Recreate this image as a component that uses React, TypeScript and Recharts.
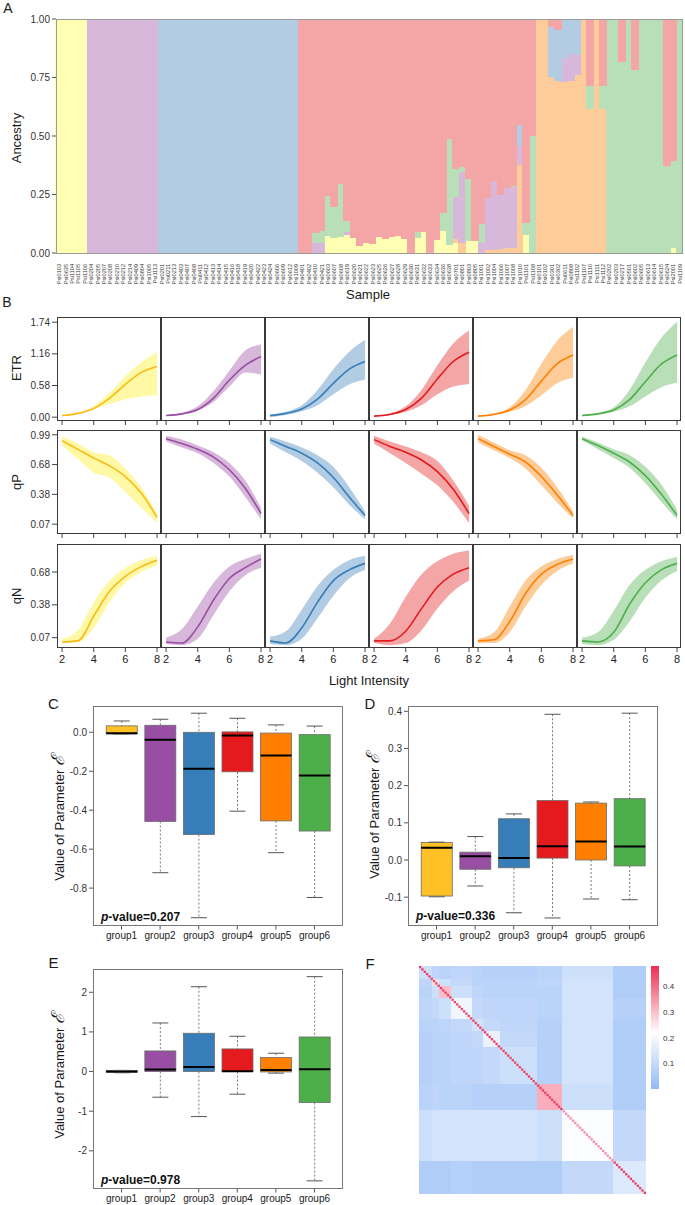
import React from "react";
import {
  BarChart,
  Bar,
  XAxis,
  YAxis,
  ComposedChart,
  Area,
  Line,
  ScatterChart,
  Scatter,
  ReferenceArea,
} from "recharts";

const FONT = '"Liberation Sans", Arial, Helvetica, sans-serif';

// ---------- A: ancestry ----------
const sampleIds = [
  "Psi0103", "Psi0635", "Psi1104", "Psi1105", "Psi1106",
  "Psi0204", "Psi0205", "Psi0207", "Psi0208", "Psi0210", "Psi0212", "Psi0214", "Psi0409", "Psi0804", "Psi1005", "Psi1113",
  "Psi0201", "Psi0211", "Psi0213", "Psi0403", "Psi0407", "Psi0408", "Psi0411", "Psi0412", "Psi0413", "Psi0414", "Psi0415",
  "Psi0416", "Psi0418", "Psi0419", "Psi0420", "Psi0422", "Psi0423", "Psi0424", "Psi0606", "Psi0609", "Psi0612", "Psi1009",
  "Psi0401", "Psi0402", "Psi0410", "Psi0421", "Psi0603", "Psi0607", "Psi0608", "Psi0619", "Psi0620", "Psi0621", "Psi0622",
  "Psi0623", "Psi0625", "Psi0626", "Psi0627", "Psi0628", "Psi0629", "Psi0630", "Psi0631", "Psi0632", "Psi0633", "Psi0634",
  "Psi0636", "Psi0638", "Psi0701", "Psi0801", "Psi0803", "Psi0805", "Psi1001", "Psi1002", "Psi1004", "Psi1006", "Psi1007",
  "Psi1008", "Psi1010", "Psi1101", "Psi1108",
  "Psi0101", "Psi0102", "Psi0301", "Psi0302", "Psi0611", "Psi0808", "Psi1102", "Psi1107", "Psi1110", "Psi1111", "Psi1112",
  "Psi0202", "Psi0203", "Psi0217", "Psi0501", "Psi0602", "Psi0605", "Psi0613", "Psi0614", "Psi0615", "Psi0624", "Psi2001", "Psi1109",
];

// stacking order bottom -> top
const clusterKeys = ["yellow", "orange", "purple", "blue", "green", "red"];
const clusterFill: Record<string, string> = {
  yellow: "#FFFFB3",
  orange: "#FDCC99",
  purple: "#D7B7DA",
  blue: "#B1CCE3",
  green: "#B9DFB8",
  red: "#F4A5A5",
};

// Q per sample: [yellow, orange, purple, blue, green, red]
const ancestryQ: number[][] = [
  [1, 0, 0, 0, 0, 0], [1, 0, 0, 0, 0, 0], [1, 0, 0, 0, 0, 0], [1, 0, 0, 0, 0, 0], [1, 0, 0, 0, 0, 0],
  [0, 0, 1, 0, 0, 0], [0, 0, 1, 0, 0, 0], [0, 0, 1, 0, 0, 0], [0, 0, 1, 0, 0, 0], [0, 0, 1, 0, 0, 0], [0, 0, 1, 0, 0, 0],
  [0, 0, 1, 0, 0, 0], [0, 0, 1, 0, 0, 0], [0, 0, 1, 0, 0, 0], [0, 0, 1, 0, 0, 0], [0, 0, 1, 0, 0, 0],
  [0, 0, 0, 1, 0, 0], [0, 0, 0, 1, 0, 0], [0, 0, 0, 1, 0, 0], [0, 0, 0, 1, 0, 0], [0, 0, 0, 1, 0, 0], [0, 0, 0, 1, 0, 0],
  [0, 0, 0, 1, 0, 0], [0, 0, 0, 1, 0, 0], [0, 0, 0, 1, 0, 0], [0, 0, 0, 1, 0, 0], [0, 0, 0, 1, 0, 0], [0, 0, 0, 1, 0, 0],
  [0, 0, 0, 1, 0, 0], [0, 0, 0, 1, 0, 0], [0, 0, 0, 1, 0, 0], [0, 0, 0, 1, 0, 0], [0, 0, 0, 1, 0, 0], [0, 0, 0, 1, 0, 0],
  [0, 0, 0, 1, 0, 0], [0, 0, 0, 1, 0, 0], [0, 0, 0, 1, 0, 0], [0, 0, 0, 1, 0, 0],
  [0, 0, 0, 0, 0, 1],
  [0, 0, 0, 0, 0, 1],
  [0, 0, 0.047, 0, 0.043, 0.91],
  [0, 0, 0.045, 0, 0.05, 0.905],
  [0.074, 0, 0, 0, 0.171, 0.755],
  [0.065, 0, 0, 0, 0.135, 0.8],
  [0.07, 0, 0, 0, 0.23, 0.7],
  [0.081, 0, 0.01, 0, 0.047, 0.862],
  [0.066, 0, 0, 0, 0, 0.934],
  [0.033, 0, 0, 0, 0, 0.967],
  [0.044, 0, 0, 0, 0, 0.956],
  [0.041, 0, 0, 0, 0, 0.959],
  [0.073, 0, 0, 0, 0, 0.927],
  [0.063, 0, 0, 0, 0, 0.937],
  [0.07, 0, 0, 0, 0, 0.93],
  [0.074, 0, 0, 0, 0, 0.926],
  [0.063, 0, 0, 0, 0, 0.937],
  [0, 0, 0, 0, 0, 1],
  [0.068, 0, 0, 0, 0.025, 0.907],
  [0.093, 0, 0, 0, 0, 0.907],
  [0, 0, 0, 0, 0, 1],
  [0.057, 0, 0, 0, 0, 0.943],
  [0.097, 0, 0, 0, 0.077, 0.826],
  [0.036, 0, 0, 0, 0.454, 0.51],
  [0.044, 0.017, 0.181, 0, 0.118, 0.64],
  [0, 0.044, 0.306, 0, 0.022, 0.628],
  [0.054, 0, 0, 0, 0.266, 0.68],
  [0.053, 0, 0, 0, 0, 0.947],
  [0, 0, 0.044, 0, 0.081, 0.875],
  [0, 0.014, 0.226, 0, 0, 0.76],
  [0, 0.014, 0.296, 0, 0, 0.69],
  [0, 0.02, 0.23, 0, 0, 0.75],
  [0, 0.025, 0.255, 0, 0, 0.72],
  [0, 0.025, 0.26, 0, 0.005, 0.71],
  [0, 0.38, 0.08, 0.09, 0, 0.45],
  [0.081, 0, 0, 0, 0.049, 0.87],
  [0.005, 0, 0, 0, 0.498, 0.497],
  [0, 1, 0, 0, 0, 0],
  [0, 1, 0, 0, 0, 0],
  [0, 0.755, 0, 0.214, 0, 0.031],
  [0, 0.74, 0, 0.217, 0, 0.043],
  [0, 0.733, 0.103, 0.164, 0, 0],
  [0, 0.74, 0.115, 0.145, 0, 0],
  [0, 0.762, 0.086, 0.152, 0, 0],
  [0, 1, 0, 0, 0, 0],
  [0.005, 0.615, 0, 0, 0.095, 0.285],
  [0, 1, 0, 0, 0, 0],
  [0, 0.62, 0, 0, 0.095, 0.285],
  [0, 0, 0, 0, 1, 0],
  [0, 0, 0, 0, 1, 0],
  [0, 0, 0, 0, 0.818, 0.182],
  [0, 0, 0, 0, 1, 0],
  [0, 0, 0, 0, 0.785, 0.215],
  [0, 0, 0, 0, 1, 0],
  [0, 0, 0, 0, 1, 0],
  [0, 0, 0, 0, 1, 0],
  [0, 0, 0, 0, 1, 0],
  [0, 0, 0, 0, 0.375, 0.625],
  [0.025, 0, 0, 0, 0.371, 0.604],
  [0, 0, 0, 0, 1, 0],
];
const ancestryTicks = [0, 0.25, 0.5, 0.75, 1];

// ---------- B: light response curves ----------
const lightX = [2, 3, 4, 5, 6, 7, 8];
const lightTicks = [2, 4, 6, 8];
const lineColors = ["#FDB914", "#984EA3", "#377EB8", "#E41A1C", "#FF7F00", "#4DAF4A"];
const bandColors = ["#FFF9A6", "#D7B7DA", "#B1CCE3", "#F4A5A5", "#FDCC99", "#B9DFB8"];

const etrMid = [
  [0.03, 0.07, 0.16, 0.35, 0.6, 0.82, 0.93],
  [0.03, 0.06, 0.14, 0.35, 0.68, 0.95, 1.11],
  [0.03, 0.07, 0.15, 0.33, 0.62, 0.88, 1.02],
  [0.02, 0.05, 0.14, 0.35, 0.7, 1.02, 1.19],
  [0.02, 0.05, 0.13, 0.32, 0.66, 0.98, 1.14],
  [0.03, 0.06, 0.13, 0.32, 0.65, 0.97, 1.14],
];
const etrLow = [
  [0.02, 0.06, 0.15, 0.24, 0.33, 0.38, 0.4],
  [0.02, 0.05, 0.12, 0.28, 0.56, 0.82, 0.78],
  [0.0, 0.04, 0.11, 0.22, 0.42, 0.6, 0.69],
  [0.01, 0.04, 0.1, 0.22, 0.42, 0.56, 0.61],
  [0.01, 0.04, 0.1, 0.2, 0.4, 0.62, 0.72],
  [0.02, 0.05, 0.1, 0.2, 0.38, 0.55, 0.63],
];
const etrHigh = [
  [0.04, 0.08, 0.2, 0.45, 0.75, 1.0, 1.2],
  [0.04, 0.08, 0.2, 0.48, 0.85, 1.22, 1.33],
  [0.05, 0.1, 0.22, 0.5, 0.88, 1.2, 1.42],
  [0.03, 0.07, 0.2, 0.5, 0.95, 1.35, 1.59],
  [0.03, 0.07, 0.18, 0.5, 0.98, 1.4, 1.65],
  [0.04, 0.08, 0.18, 0.5, 1.0, 1.45, 1.75],
];
const qpMid = [
  [0.93, 0.84, 0.75, 0.67, 0.56, 0.39, 0.14],
  [0.95, 0.9, 0.84, 0.76, 0.63, 0.44, 0.18],
  [0.94, 0.87, 0.8, 0.7, 0.55, 0.35, 0.16],
  [0.94, 0.87, 0.81, 0.73, 0.61, 0.43, 0.18],
  [0.95, 0.87, 0.79, 0.71, 0.56, 0.37, 0.16],
  [0.95, 0.88, 0.8, 0.71, 0.57, 0.38, 0.16],
];
const qpLow = [
  [0.88, 0.74, 0.6, 0.55, 0.4, 0.24, 0.08],
  [0.92, 0.86, 0.8, 0.7, 0.56, 0.35, 0.12],
  [0.9, 0.81, 0.72, 0.6, 0.45, 0.27, 0.12],
  [0.9, 0.8, 0.7, 0.59, 0.47, 0.3, 0.08],
  [0.91, 0.83, 0.75, 0.64, 0.47, 0.29, 0.13],
  [0.93, 0.84, 0.75, 0.65, 0.49, 0.3, 0.12],
];
const qpHigh = [
  [0.975, 0.9, 0.81, 0.78, 0.64, 0.45, 0.18],
  [0.98, 0.94, 0.88, 0.81, 0.7, 0.52, 0.24],
  [0.97, 0.92, 0.86, 0.78, 0.66, 0.45, 0.2],
  [0.98, 0.92, 0.87, 0.81, 0.72, 0.52, 0.26],
  [0.99, 0.91, 0.83, 0.78, 0.65, 0.45, 0.2],
  [0.97, 0.91, 0.84, 0.78, 0.66, 0.48, 0.22],
];
const qnMid = [
  [0.03, 0.04, 0.27, 0.5, 0.64, 0.73, 0.79],
  [0.03, 0.02, 0.17, 0.42, 0.62, 0.72, 0.8],
  [0.04, 0.02, 0.16, 0.4, 0.6, 0.7, 0.76],
  [0.04, 0.04, 0.13, 0.34, 0.54, 0.66, 0.72],
  [0.04, 0.05, 0.22, 0.48, 0.66, 0.75, 0.8],
  [0.04, 0.03, 0.12, 0.38, 0.58, 0.7, 0.76],
];
const qnLow = [
  [0.02, 0.03, 0.16, 0.4, 0.58, 0.68, 0.74],
  [0.01, 0.0, 0.06, 0.28, 0.5, 0.65, 0.72],
  [0.01, 0.0, 0.06, 0.25, 0.46, 0.62, 0.7],
  [0.02, 0.0, 0.02, 0.14, 0.34, 0.5, 0.6],
  [0.02, 0.02, 0.12, 0.36, 0.56, 0.69, 0.76],
  [0.01, 0.0, 0.05, 0.22, 0.44, 0.6, 0.69],
];
const qnHigh = [
  [0.06, 0.14, 0.4, 0.6, 0.72, 0.79, 0.83],
  [0.07, 0.15, 0.36, 0.58, 0.73, 0.8, 0.85],
  [0.08, 0.13, 0.33, 0.55, 0.7, 0.79, 0.83],
  [0.06, 0.2, 0.45, 0.66, 0.78, 0.85, 0.88],
  [0.06, 0.12, 0.36, 0.6, 0.73, 0.8, 0.84],
  [0.07, 0.12, 0.32, 0.56, 0.7, 0.78, 0.82],
];

const curveRows = [
  { label: "ETR", mid: etrMid, low: etrLow, high: etrHigh, domain: [-0.07, 1.835], ticks: [0, 0.58, 1.16, 1.74], top: 316.5 },
  { label: "qP", mid: qpMid, low: qpLow, high: qpHigh, domain: [-0.031, 1.039], ticks: [0.07, 0.3767, 0.6833, 0.99], top: 429.5 },
  { label: "qN", mid: qnMid, low: qnLow, high: qnHigh, domain: [-0.026, 0.94], ticks: [0.07, 0.375, 0.68], top: 544 },
];

// ---------- C, D, E: boxplots ----------
const groupNames = ["group1", "group2", "group3", "group4", "group5", "group6"];
const boxColors = ["#FFC125", "#984EA3", "#377EB8", "#E41A1C", "#FF7F00", "#4DAF4A"];

const cMin = [-0.008, -0.721, -0.952, -0.405, -0.618, -0.848];
const cQ1 = [-0.008, -0.458, -0.525, -0.203, -0.455, -0.507];
const cMed = [-0.005, -0.038, -0.187, -0.016, -0.119, -0.222];
const cQ3 = [0.033, 0.036, 0.0, 0.002, -0.004, -0.012];
const cMax = [0.058, 0.067, 0.098, 0.072, 0.038, 0.032];

const dMin = [-0.099, -0.07, -0.142, -0.156, -0.105, -0.107];
const dQ1 = [-0.097, -0.025, -0.021, 0.005, 0.0, -0.016];
const dMed = [0.033, 0.01, 0.005, 0.037, 0.05, 0.036];
const dQ3 = [0.047, 0.021, 0.111, 0.16, 0.153, 0.165];
const dMax = [0.048, 0.063, 0.124, 0.392, 0.156, 0.395];

const eMin = [-0.03, -0.647, -1.136, -0.571, -0.04, -2.757];
const eQ1 = [-0.025, 0.0, 0.0, 0.0, -0.01, -0.782];
const eMed = [0.0, 0.05, 0.118, 0.01, 0.04, 0.06];
const eQ3 = [0.025, 0.52, 0.966, 0.571, 0.353, 0.872];
const eMax = [0.03, 1.226, 2.14, 0.89, 0.462, 2.394];

// ---------- F: kinship heatmap (block structure) ----------
const heatBlockSizes = [6, 3, 5, 9, 5, 7, 16, 11, 22, 14];
const heatBlockValues = [
  [0.12, 0.09, 0.08, 0.09, 0.08, 0.07, 0.07, 0.08, 0.12, 0.06],
  [0.09, 0.26, 0.12, 0.1, 0.08, 0.08, 0.08, 0.09, 0.13, 0.06],
  [0.08, 0.12, 0.3, 0.12, 0.09, 0.08, 0.08, 0.08, 0.13, 0.06],
  [0.09, 0.1, 0.12, 0.19, 0.1, 0.09, 0.09, 0.08, 0.13, 0.07],
  [0.08, 0.08, 0.09, 0.1, 0.13, 0.1, 0.09, 0.07, 0.13, 0.06],
  [0.07, 0.08, 0.08, 0.09, 0.1, 0.18, 0.1, 0.07, 0.13, 0.06],
  [0.07, 0.08, 0.08, 0.09, 0.09, 0.1, 0.12, 0.07, 0.13, 0.06],
  [0.08, 0.09, 0.08, 0.08, 0.07, 0.07, 0.07, 0.32, 0.12, 0.06],
  [0.12, 0.13, 0.13, 0.13, 0.13, 0.13, 0.13, 0.12, 0.21, 0.1],
  [0.06, 0.06, 0.06, 0.07, 0.06, 0.06, 0.06, 0.06, 0.1, 0.15],
];
const heatDiagValues = [0.46, 0.45, 0.46, 0.45, 0.45, 0.46, 0.45, 0.46, 0.36, 0.46];
const heatTicks = [0.1, 0.2, 0.3, 0.4];

const LOW = [146, 186, 246];
const MID = [255, 255, 255];
const HIGH = [237, 45, 82];
function heatColor(v: number) {
  const mix = (a: number[], b: number[], t: number) =>
    `rgb(${a.map((c, i) => Math.round(c + (b[i] - c) * t)).join(",")})`;
  if (v <= 0.22) return mix(LOW, MID, Math.max(0, v / 0.22));
  return mix(MID, HIGH, Math.min(1, (v - 0.22) / 0.26));
}

// ---------- helpers ----------
function Txt({ x, y, size = 13, rotate = false, weight = 400, children }: any) {
  return (
    <div
      style={{
        position: "absolute",
        left: x,
        top: y,
        transform: `translate(-50%, -50%)${rotate ? " rotate(-90deg)" : ""}`,
        fontSize: size,
        fontWeight: weight,
        whiteSpace: "nowrap",
        lineHeight: 1,
        color: "#1a1a1a",
      }}
    >
      {children}
    </div>
  );
}

function Frame({ left, top, width, height, color = "#444" }: any) {
  return (
    <div
      style={{
        position: "absolute",
        left,
        top,
        width,
        height,
        border: `1px solid ${color}`,
        boxSizing: "border-box",
        pointerEvents: "none",
      }}
    />
  );
}

const SampleTick = (props: any) => {
  const { x, y, payload } = props;
  return (
    <g transform={`translate(${x},${y + 3})`}>
      <text transform="rotate(-90)" x={0} y={0} dy={2} textAnchor="end" fontSize={5.6} fill="#333">
        {payload.value}
      </text>
    </g>
  );
};

function AncestryPanel() {
  const data = sampleIds.map((id, i) => {
    const row: any = { id };
    clusterKeys.forEach((k, j) => (row[k] = ancestryQ[i][j]));
    return row;
  });
  return (
    <div style={{ position: "absolute", left: 0, top: 0 }}>
      <BarChart width={685} height={290} data={data} margin={{ top: 19, right: 2, left: 0, bottom: 0 }} barCategoryGap={0}>
        <XAxis dataKey="id" interval={0} height={37} tick={(p: any) => <SampleTick {...p} />} tickLine={false} axisLine={false} />
        <YAxis
          width={56}
          type="number"
          domain={[0, 1]}
          ticks={ancestryTicks}
          allowDataOverflow
          tickFormatter={(v: number) => v.toFixed(2)}
          tickSize={4}
          axisLine={false}
          tickLine={{ stroke: "#555" }}
          tick={{ fontSize: 10, fill: "#333" }}
        />
        {clusterKeys.map((k) => (
          <Bar
            key={k}
            dataKey={k}
            stackId="q"
            fill={clusterFill[k]}
            stroke={clusterFill[k]}
            strokeWidth={1.4}
            shapeRendering="crispEdges"
            isAnimationActive={false}
          />
        ))}
      </BarChart>
    </div>
  );
}

const B_LEFT = 56.7;
const B_W = 104;
const B_H = 104;

function CurvePanel({ row, col }: { row: number; col: number }) {
  const r = curveRows[row];
  const data = lightX.map((x, i) => ({
    x,
    mid: r.mid[col][i],
    band: [r.low[col][i], r.high[col][i]],
  }));
  const plotLeft = B_LEFT + col * B_W;
  const yW = 50;
  const first = col === 0;
  return (
    <>
      <div style={{ position: "absolute", left: plotLeft - yW, top: r.top }}>
        <ComposedChart width={B_W + yW} height={B_H + 24} data={data} margin={{ top: 0, right: 0, bottom: 0, left: 0 }}>
          <XAxis
            type="number"
            dataKey="x"
            domain={[1.68, 8.25]}
            ticks={lightTicks}
            allowDataOverflow
            height={24}
            axisLine={false}
            tickSize={4}
            tickMargin={3}
            tickLine={{ stroke: "#444" }}
            tick={{ fontSize: 11, fill: "#222" }}
            tickFormatter={row === 2 ? (v: number) => String(v) : () => ""}
          />
          <YAxis
            type="number"
            domain={r.domain}
            ticks={r.ticks}
            allowDataOverflow
            width={yW}
            axisLine={false}
            tickSize={first ? 5 : 0}
            tickLine={first ? { stroke: "#444" } : false}
            tick={first ? { fontSize: 10, fill: "#333" } : false}
            tickFormatter={(v: number) => v.toFixed(2)}
          />
          <Area type="monotone" dataKey="band" stroke="none" fill={bandColors[col]} fillOpacity={1} isAnimationActive={false} />
          <Line type="monotone" dataKey="mid" stroke={lineColors[col]} strokeWidth={1.6} dot={false} isAnimationActive={false} />
        </ComposedChart>
      </div>
      <Frame left={plotLeft} top={r.top} width={B_W} height={B_H} color="#3a3a3a" />
    </>
  );
}

const norm = (p: any) => {
  const y0 = Math.min(p.y, p.y + p.height);
  return { x: p.x, y: y0, w: p.width, h: Math.abs(p.height) };
};

const WhiskerLow = (p: any) => {
  const { x, y, w, h } = norm(p);
  const cx = x + w / 2;
  return (
    <g>
      <line x1={cx} x2={cx} y1={y} y2={y + h} stroke="#7a7a7a" strokeDasharray="2 2" />
      <line x1={cx - 8} x2={cx + 8} y1={y + h} y2={y + h} stroke="#555" />
    </g>
  );
};
const WhiskerHigh = (p: any) => {
  const { x, y, w, h } = norm(p);
  const cx = x + w / 2;
  return (
    <g>
      <line x1={cx} x2={cx} y1={y} y2={y + h} stroke="#7a7a7a" strokeDasharray="2 2" />
      <line x1={cx - 8} x2={cx + 8} y1={y} y2={y} stroke="#555" />
    </g>
  );
};
const BoxLow = (p: any) => {
  const { x, y, w, h } = norm(p);
  return <rect x={x} y={y} width={w} height={h} fill={boxColors[p.index]} stroke="#6b6b6b" strokeWidth={0.8} />;
};
const BoxHigh = (p: any) => {
  const { x, y, w, h } = norm(p);
  return (
    <g>
      <rect x={x} y={y} width={w} height={h} fill={boxColors[p.index]} stroke="#6b6b6b" strokeWidth={0.8} />
      <line x1={x} x2={x + w} y1={y + h} y2={y + h} stroke="#000" strokeWidth={2} />
    </g>
  );
};

function BoxPanel({ left, top, mins, q1s, meds, q3s, maxs, domain, ticks, fmt }: any) {
  const data = groupNames.map((g, i) => ({
    g,
    base: mins[i],
    wLow: q1s[i] - mins[i],
    boxLow: meds[i] - q1s[i],
    boxHigh: q3s[i] - meds[i],
    wHigh: maxs[i] - q3s[i],
  }));
  const yW = 40;
  const pw = 250;
  const ph = 219.5;
  return (
    <>
      <div style={{ position: "absolute", left: left - yW, top }}>
        <ComposedChart width={pw + yW} height={ph + 24} data={data} margin={{ top: 0, right: 0, bottom: 0, left: 0 }}>
          <XAxis
            dataKey="g"
            padding={{ left: 9.25, right: 9.25 }}
            height={24}
            axisLine={false}
            tickSize={4}
            tickMargin={2}
            tickLine={{ stroke: "#555" }}
            tick={{ fontSize: 10, fill: "#222" }}
          />
          <YAxis
            type="number"
            domain={domain}
            ticks={ticks}
            allowDataOverflow
            width={yW}
            axisLine={false}
            tickSize={4}
            tickLine={{ stroke: "#555" }}
            tick={{ fontSize: 10, fill: "#333" }}
            tickFormatter={fmt}
          />
          <Bar dataKey="base" stackId="b" barSize={31} shape={() => <g />} isAnimationActive={false} />
          <Bar dataKey="wLow" stackId="b" barSize={31} shape={WhiskerLow} isAnimationActive={false} />
          <Bar dataKey="boxLow" stackId="b" barSize={31} shape={BoxLow} isAnimationActive={false} />
          <Bar dataKey="boxHigh" stackId="b" barSize={31} shape={BoxHigh} isAnimationActive={false} />
          <Bar dataKey="wHigh" stackId="b" barSize={31} shape={WhiskerHigh} isAnimationActive={false} />
        </ComposedChart>
      </div>
      <Frame left={left} top={top} width={pw} height={ph} color="#777" />
    </>
  );
}

function PValue({ x, y, value }: any) {
  return (
    <div style={{ position: "absolute", left: x, top: y, fontSize: 12, fontWeight: 700, lineHeight: 1, color: "#111", whiteSpace: "nowrap" }}>
      <i>p</i>-value={value}
    </div>
  );
}

function ParamLabel({ x, y }: any) {
  return (
    <Txt x={x} y={y} rotate size={13}>
      Value of Parameter <span style={{ fontSize: 18, fontStyle: "italic", fontFamily: '"DejaVu Serif", serif' }}>ℰ</span>
    </Txt>
  );
}

function HeatPanel() {
  const starts: number[] = [];
  heatBlockSizes.reduce((acc, s) => {
    starts.push(acc);
    return acc + s;
  }, 0);
  const total = heatBlockSizes.reduce((a, b) => a + b, 0);
  const diagCells: { x: number; y: number; v: number }[] = [];
  heatBlockSizes.forEach((s, b) => {
    for (let k = 0; k < s; k++) diagCells.push({ x: starts[b] + k, y: starts[b] + k, v: heatDiagValues[b] });
  });
  return (
    <>
      <div style={{ position: "absolute", left: 419, top: 965.7 }}>
        <ScatterChart width={227} height={228} margin={{ top: 0, right: 0, bottom: 0, left: 0 }}>
          <XAxis type="number" dataKey="x" domain={[0, total]} allowDataOverflow hide />
          <YAxis type="number" dataKey="y" domain={[0, total]} allowDataOverflow reversed hide />
          {heatBlockValues.map((rowVals, i) =>
            rowVals.map((v, j) => (
              <ReferenceArea
                key={`b${i}-${j}`}
                x1={starts[j]}
                x2={starts[j] + heatBlockSizes[j]}
                y1={starts[i]}
                y2={starts[i] + heatBlockSizes[i]}
                fill={heatColor(v)}
                fillOpacity={1}
                stroke={heatColor(v)}
                strokeWidth={1}
                shapeRendering="crispEdges"
                ifOverflow="visible"
              />
            ))
          )}
          {diagCells.map((c, k) => (
            <ReferenceArea
              key={`d${k}`}
              x1={c.x}
              x2={c.x + 1}
              y1={c.y}
              y2={c.y + 1}
              fill={heatColor(c.v)}
              fillOpacity={1}
              stroke="none"
              ifOverflow="visible"
            />
          ))}
          <Scatter data={diagCells} dataKey="y" shape={() => <g />} isAnimationActive={false} />
        </ScatterChart>
      </div>
      <div style={{ position: "absolute", left: 650, top: 965.7 }}>
        <BarChart width={40} height={123} data={[{ k: "scale", v: 0.48 }]} margin={{ top: 0, right: 0, bottom: 0, left: 0 }}>
          <defs>
            <linearGradient id="kinGrad" x1="0" y1="0" x2="0" y2="1">
              <stop offset="0%" stopColor={heatColor(0.48)} />
              <stop offset={`${((0.48 - 0.22) / 0.48) * 100}%`} stopColor={heatColor(0.22)} />
              <stop offset="100%" stopColor={heatColor(0)} />
            </linearGradient>
          </defs>
          <XAxis dataKey="k" hide />
          <YAxis
            orientation="right"
            type="number"
            domain={[0, 0.48]}
            ticks={heatTicks}
            allowDataOverflow
            width={30}
            axisLine={false}
            tickLine={false}
            tickSize={0}
            tickMargin={3}
            tick={{ fontSize: 8, fill: "#333" }}
          />
          <Bar dataKey="v" fill="url(#kinGrad)" barSize={8} isAnimationActive={false} />
        </BarChart>
      </div>
    </>
  );
}

export default function App() {
  return (
    <div
      style={{
        position: "absolute",
        left: 0,
        top: 0,
        width: 685,
        height: 1205,
        background: "#fff",
        fontFamily: FONT,
        color: "#222",
        overflow: "hidden",
      }}
    >
      {/* A */}
      <Txt x={8} y={8} size={14}>A</Txt>
      <AncestryPanel />
      <Frame left={56} top={19} width={627} height={234.5} color="#9a9a9a" />
      <Txt x={16} y={138} rotate size={13}>Ancestry</Txt>
      <Txt x={368} y={294} size={13}>Sample</Txt>

      {/* B */}
      <Txt x={7} y={302} size={14}>B</Txt>
      {curveRows.map((r, ri) =>
        lineColors.map((_, ci) => <CurvePanel key={`${ri}-${ci}`} row={ri} col={ci} />)
      )}
      <Txt x={16} y={368} rotate size={13}>ETR</Txt>
      <Txt x={16} y={482} rotate size={13}>qP</Txt>
      <Txt x={16} y={596} rotate size={13}>qN</Txt>
      <Txt x={369} y={680} size={13}>Light Intensity</Txt>

      {/* C */}
      <Txt x={53.5} y={702.5} size={15}>C</Txt>
      <BoxPanel
        left={92.7}
        top={706}
        mins={cMin}
        q1s={cQ1}
        meds={cMed}
        q3s={cQ3}
        maxs={cMax}
        domain={[-0.992, 0.135]}
        ticks={[-0.8, -0.6, -0.4, -0.2, 0]}
        fmt={(v: number) => v.toFixed(1)}
      />
      <ParamLabel x={58} y={818} />
      <PValue x={101} y={911} value="0.207" />

      {/* D */}
      <Txt x={370} y={702.5} size={15}>D</Txt>
      <BoxPanel
        left={407.7}
        top={706}
        mins={dMin}
        q1s={dQ1}
        meds={dMed}
        q3s={dQ3}
        maxs={dMax}
        domain={[-0.1763, 0.4143]}
        ticks={[-0.1, 0, 0.1, 0.2, 0.3, 0.4]}
        fmt={(v: number) => v.toFixed(1)}
      />
      <ParamLabel x={373} y={816} />
      <PValue x={416} y={910} value="0.336" />

      {/* E */}
      <Txt x={53.5} y={962} size={15}>E</Txt>
      <BoxPanel
        left={92.7}
        top={969}
        mins={eMin}
        q1s={eQ1}
        meds={eMed}
        q3s={eQ3}
        maxs={eMax}
        domain={[-2.95, 2.587]}
        ticks={[-2, -1, 0, 1, 2]}
        fmt={(v: number) => String(v)}
      />
      <ParamLabel x={58} y={1076} />
      <PValue x={101} y={1174} value="0.978" />

      {/* F */}
      <Txt x={370} y={963} size={15}>F</Txt>
      <HeatPanel />
    </div>
  );
}
